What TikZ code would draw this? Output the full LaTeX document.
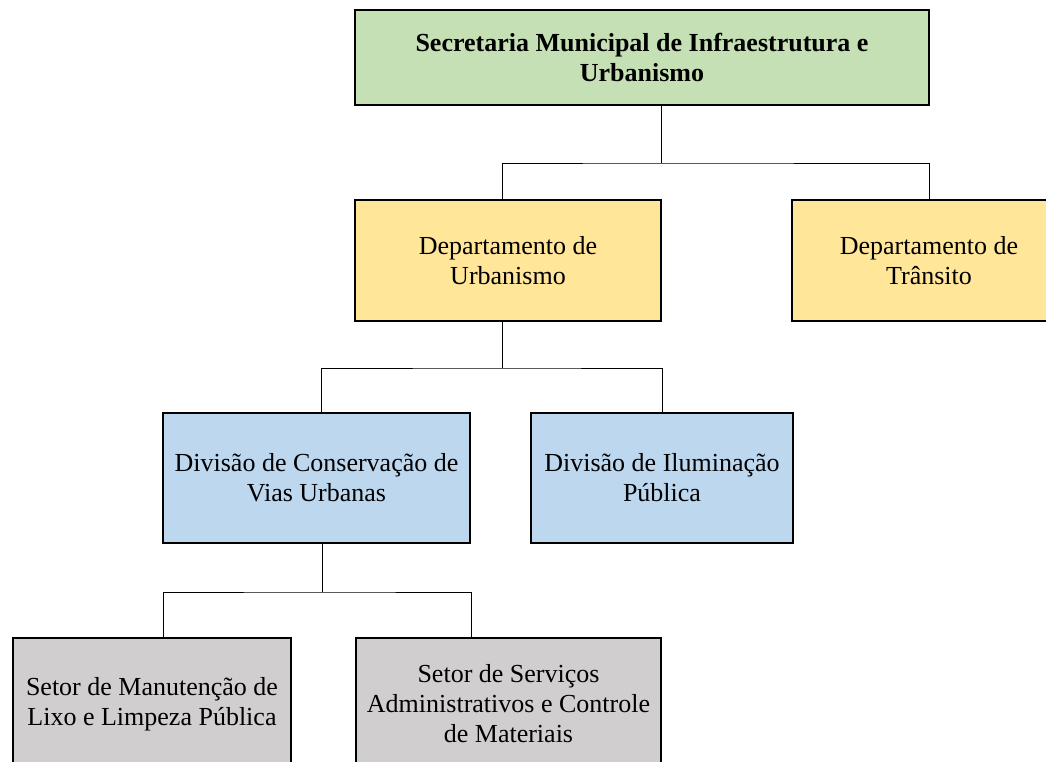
\documentclass[tikz,border=0pt]{standalone}
\usepackage{fontspec}
\setmainfont{Liberation Serif}
\usepackage{tikz}

\definecolor{verde}{HTML}{C5E0B4}
\definecolor{amarelo}{HTML}{FFE699}
\definecolor{azul}{HTML}{BDD7EE}
\definecolor{cinza}{HTML}{D0CECE}

\tikzset{
  caixa/.style={draw=black,line width=1pt,align=center,inner sep=0pt,
    font=\fontsize{19.5}{22.5}\selectfont},
  liga/.style={draw=black,line width=0.75pt}
}

\begin{document}
\begin{tikzpicture}[x=0.75pt,y=-0.75pt]
\useasboundingbox[fill=white] (0,0) rectangle (1046,761);

\node[caixa,fill=verde,minimum width=430.5pt,minimum height=71.25pt,font=\fontsize{19.5}{22.5}\selectfont\bfseries] (sec) at (642,57.5)
  {Secretaria Municipal de Infraestrutura e\\Urbanismo};

\node[caixa,fill=amarelo,minimum width=229.5pt,minimum height=90.75pt] (urb) at (508,260.5)
  {Departamento de\\Urbanismo};
\node[caixa,fill=amarelo,minimum width=205.5pt,minimum height=90.75pt] (tra) at (929,260.5)
  {Departamento de\\Trânsito};

\node[caixa,fill=azul,minimum width=230.25pt,minimum height=97.5pt] (cons) at (316.5,478)
  {Divisão de Conservação de\\Vias Urbanas};
\node[caixa,fill=azul,minimum width=196.5pt,minimum height=97.5pt] (ilum) at (662,478)
  {Divisão de Iluminação\\Pública};

\node[caixa,fill=cinza,minimum width=208.5pt,minimum height=99pt] (manut) at (152,704)
  {Setor de Manutenção de\\Lixo e Limpeza Pública};
\node[caixa,fill=cinza,minimum width=228.75pt,minimum height=99pt] (serv) at (508.5,704)
  {Setor de Serviços\\Administrativos e Controle\\de Materiais};

% ligacoes
\coordinate (j1) at (661,163);
\coordinate (j2) at (502,368);
\coordinate (j3) at (322,592);

\draw[liga] (sec.south -| j1) -- (j1);
\draw[liga] ([xshift=-4.5pt]urb.north) |- (j1) -| (tra.north);

\draw[liga] (urb.south -| j2) -- (j2);
\draw[liga] ([xshift=4.1pt]cons.north) |- (j2) -| (ilum.north);

\draw[liga] (cons.south -| j3) -- (j3);
\draw[liga] ([xshift=8.25pt]manut.north) |- (j3) -| ([xshift=-27.4pt]serv.north);
\end{tikzpicture}
\end{document}
